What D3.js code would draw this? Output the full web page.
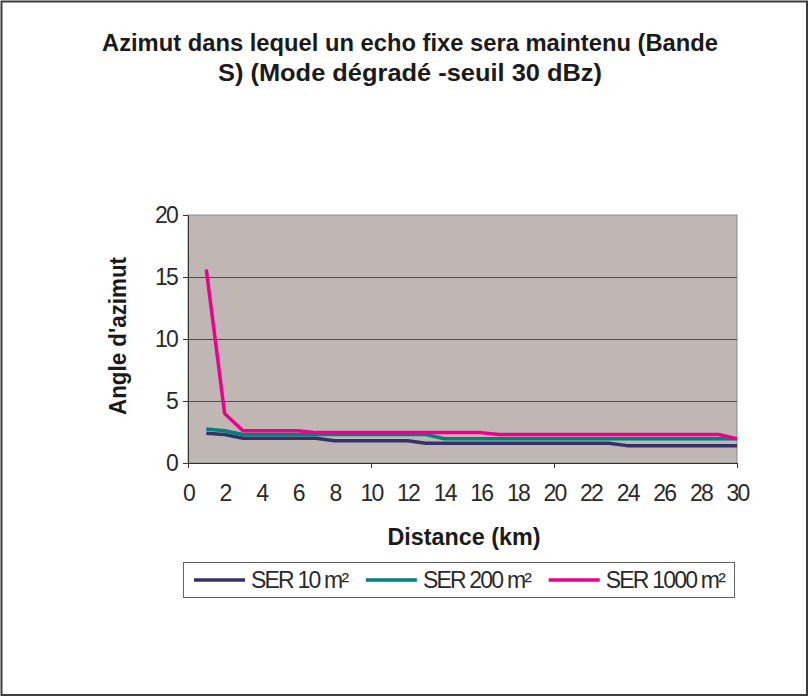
<!DOCTYPE html>
<html><head><meta charset="utf-8">
<script src="https://cdn.jsdelivr.net/npm/d3@7"></script>
<style>
html,body{margin:0;padding:0;background:#fff;}
svg{display:block;font-family:"Liberation Sans",Arial,sans-serif;}
</style></head>
<body>
<svg id="c" width="809" height="697"></svg>
<script>
const distances = [1,2,3,4,5,6,7,8,9,10,11,12,13,14,15,16,17,18,19,20,21,22,23,24,25,26,27,28,29,30];
const ser10   = [2.4,2.3,2.0,2.0,2.0,2.0,2.0,1.8,1.8,1.8,1.8,1.8,1.6,1.6,1.6,1.6,1.6,1.6,1.6,1.6,1.6,1.6,1.6,1.4,1.4,1.4,1.4,1.4,1.4,1.4];
const ser200  = [2.75,2.6,2.3,2.3,2.3,2.3,2.3,2.3,2.3,2.3,2.3,2.3,2.3,1.95,1.95,1.95,1.95,1.95,1.95,1.95,1.95,1.95,1.95,1.95,1.95,1.95,1.95,1.95,1.95,1.95];
const ser1000 = [15.6,4.0,2.6,2.6,2.6,2.6,2.45,2.45,2.45,2.45,2.45,2.45,2.45,2.45,2.45,2.45,2.3,2.3,2.3,2.3,2.3,2.3,2.3,2.3,2.3,2.3,2.3,2.3,2.3,1.95];
const seriesNames = ["SER 10 m²","SER 200 m²","SER 1000 m²"];
const seriesColors = ["#333366","#008080","#ec008c"];
const yTicks = [0,5,10,15,20];
const xLabelTicks = [0,2,4,6,8,10,12,14,16,18,20,22,24,26,28,30];
const xMajorTicks = [0,10,20,30];
const titleLines = ["Azimut dans lequel un echo fixe sera maintenu (Bande","S) (Mode dégradé -seuil 30 dBz)"];

const svg = d3.select("#c");
const x = d3.scaleLinear().domain([0,30]).range([188,737]);
const y = d3.scaleLinear().domain([0,20]).range([463,215]);

// outer border
svg.append("rect").attr("x",1.5).attr("y",1.5).attr("width",805.5).attr("height",693.5)
  .attr("fill","#fff").attr("stroke","#3c3c3c").attr("stroke-width",2);

// title
svg.selectAll("text.title").data(titleLines).join("text")
  .attr("class","title")
  .attr("x",410).attr("y",(d,i)=>51+i*30)
  .attr("text-anchor","middle")
  .attr("font-size",24).attr("font-weight","bold").attr("fill","#1a1a1a")
  .attr("textLength",(d,i)=>i===0?616:384).attr("lengthAdjust","spacingAndGlyphs")
  .text(d=>d);

// plot area
svg.append("rect").attr("x",x(0)).attr("y",y(20)).attr("width",x(30)-x(0)).attr("height",y(0)-y(20))
  .attr("fill","#c0b7b4").attr("stroke","#8a8a8a").attr("stroke-width",1);

// gridlines
svg.append("g").selectAll("line").data(yTicks.filter(v=>v>0&&v<20)).join("line")
  .attr("x1",x(0)).attr("x2",x(30)).attr("y1",d=>y(d)+0.5).attr("y2",d=>y(d)+0.5)
  .attr("stroke","#4d4d4d").attr("stroke-width",1);

// y axis
const yAxis = svg.append("g").attr("transform",`translate(${x(0)},0)`)
  .call(d3.axisLeft(y).tickValues(yTicks).tickSize(5).tickPadding(6).tickSizeOuter(0));
yAxis.select(".domain").attr("stroke","#333");
yAxis.selectAll(".tick line").attr("stroke","#333");
yAxis.selectAll("text").attr("font-size",23).attr("fill","#2a2a2a").attr("letter-spacing","-1.8").attr("font-family","Liberation Sans, Arial, sans-serif");

// x axis: major tick marks
const xAxis = svg.append("g").attr("transform",`translate(0,${y(0)})`)
  .call(d3.axisBottom(x).tickValues(xMajorTicks).tickSize(5).tickFormat("").tickSizeOuter(0));
xAxis.select(".domain").attr("stroke","#333");
xAxis.selectAll(".tick line").attr("stroke","#333");
// x axis labels
const xLab = svg.append("g").attr("transform",`translate(0,${y(0)})`)
  .call(d3.axisBottom(x).tickValues(xLabelTicks).tickSize(0).tickPadding(22));
xLab.select(".domain").remove();
xLab.selectAll("text").attr("font-size",23).attr("fill","#2a2a2a").attr("letter-spacing","-1.8").attr("font-family","Liberation Sans, Arial, sans-serif");

// axis titles
svg.append("text").attr("x",464).attr("y",545).attr("text-anchor","middle")
  .attr("font-size",23).attr("font-weight","bold").attr("fill","#1a1a1a")
  .attr("textLength",153).attr("lengthAdjust","spacingAndGlyphs")
  .text("Distance (km)");
svg.append("text").attr("transform","translate(126,336) rotate(-90)").attr("text-anchor","middle")
  .attr("font-size",23).attr("font-weight","bold").attr("fill","#1a1a1a")
  .attr("textLength",158).attr("lengthAdjust","spacingAndGlyphs")
  .text("Angle d'azimut");

// lines
const allSeries = [ser10, ser200, ser1000];
const line = d3.line().x((d,i)=>x(distances[i])).y(d=>y(d));
svg.append("g").selectAll("path").data(allSeries).join("path")
  .attr("d",d=>line(d)).attr("fill","none")
  .attr("stroke",(d,i)=>seriesColors[i]).attr("stroke-width",3.5)
  .attr("stroke-linejoin","round");

// legend
svg.append("rect").attr("x",183.5).attr("y",562.5).attr("width",551).attr("height",35)
  .attr("fill","#fff").attr("stroke","#666").attr("stroke-width",1);
const lg = svg.append("g").selectAll("g").data(seriesNames).join("g");
lg.append("line").attr("x1",0).attr("x2",51).attr("y1",0).attr("y2",0)
  .attr("stroke",(d,i)=>seriesColors[i]).attr("stroke-width",3.5);
lg.append("text").attr("x",57).attr("y",8).attr("font-size",23).attr("fill","#2a2a2a")
  .attr("letter-spacing","-1.8").text(d=>d);
const widths = [];
lg.select("text").each(function(){ widths.push(this.getComputedTextLength()); });
const startX = 194, endX = 724;
const used = widths.reduce((a,b)=>a+b,0) + seriesNames.length*57;
const gap = (endX - startX - used)/(seriesNames.length-1);
let cx = startX;
lg.attr("transform",(d,i)=>{ const t=`translate(${cx},580)`; cx += 57 + widths[i] + gap; return t; });
</script>
</body></html>
